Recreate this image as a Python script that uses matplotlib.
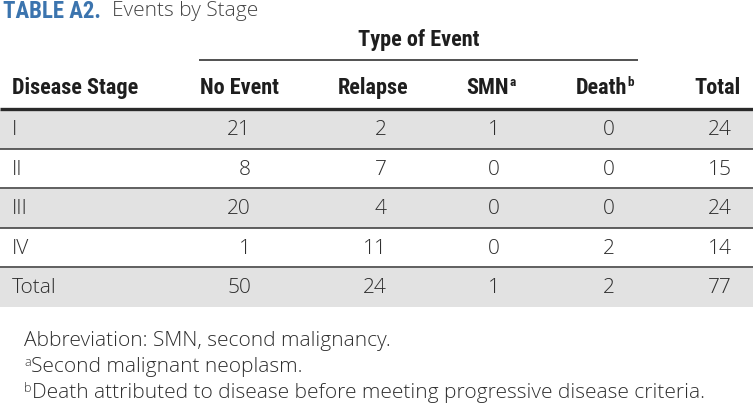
import matplotlib
matplotlib.use('Agg')
import matplotlib.pyplot as plt
from matplotlib import font_manager

# table data
stages = ['I', 'II', 'III', 'IV', 'Total']
no_event = [21, 8, 20, 1, 50]
relapse = [2, 7, 4, 11, 24]
smn = [1, 0, 0, 0, 1]
death = [0, 0, 0, 2, 2]
total = [24, 15, 24, 14, 77]

col_headers = ['Disease Stage', 'No Event', 'Relapse', 'SMN', 'Death', 'Total']
col_marks = ['', '', '', 'a', 'b', '']
footnotes = [('', 'Abbreviation: SMN, second malignancy.'),
             ('a', 'Second malignant neoplasm.'),
             ('b', 'Death attributed to disease before meeting progressive disease criteria.')]

names = {f.name for f in font_manager.fontManager.ttflist}
HEAD_FONT = 'Roboto Condensed' if 'Roboto Condensed' in names else 'DejaVu Sans'
BODY_FONT = 'Open Sans' if 'Open Sans' in names else 'DejaVu Sans'
plt.rcParams['font.family'] = [BODY_FONT, 'DejaVu Sans']

BLUE = '#3b74ae'
TXT = '#2e2e2e'
HDR = '#1e1e1e'
GRAY = '#e2e2e2'

head = dict(family=[HEAD_FONT, 'DejaVu Sans'], fontweight='bold', fontsize=16, color=HDR)
body = dict(family=[BODY_FONT, 'DejaVu Sans'], fontweight=300, fontsize=15, color=TXT)

W, H = 753, 413
fig = plt.figure(figsize=(W / 100, H / 100), dpi=100)
ax = fig.add_axes([0, 0, 1, 1])
ax.set_xlim(0, W)
ax.set_ylim(H, 0)
ax.axis('off')

renderer = fig.canvas.get_renderer()


def right_edge(t):
    bb = t.get_window_extent(renderer).transformed(ax.transData.inverted())
    return max(bb.x0, bb.x1)


# title
t = ax.text(3, 11, 'TABLE A2.', ha='left', va='center', **dict(head, fontsize=16.5, color=BLUE))
ax.text(right_edge(t) + 11, 11, 'Events by Stage', ha='left', va='center',
        **dict(body, color='#444444'))

# group header
ax.text(419, 40, 'Type of Event', ha='center', va='center', **head)
ax.plot([199, 638], [60, 60], color='#333333', lw=1.2, solid_capstyle='butt')

# column headers
hdr_x = [12, 240, 373, 488, 601, 741]
hdr_ha = ['left', 'center', 'center', 'center', 'center', 'right']
for x, s, m, ha in zip(hdr_x, col_headers, col_marks, hdr_ha):
    t = ax.text(x, 88, s, ha=ha, va='center', **head)
    if m:
        ax.text(right_edge(t) + 0.5, 83, m, ha='left', va='center', **dict(head, fontsize=9.5))

# body rows
row_top = 109
row_h = 39.5
ax.plot([0, W], [row_top, row_top], color='#2a2a2a', lw=2.4, solid_capstyle='butt')

cols = [no_event, relapse, smn, death, total]
val_x = [251, 387, 500, 615, 732]
for i, stage in enumerate(stages):
    y0 = row_top + i * row_h
    if i % 2 == 0:
        ax.axhspan(y0 + 1, y0 + row_h, color=GRAY, lw=0)
    if i > 0:
        ax.plot([0, W], [y0, y0], color='#444444', lw=1.2, solid_capstyle='butt')
    yc = y0 + row_h / 2 + 1.5
    ax.text(12, yc, stage, ha='left', va='center', **body)
    for x, vals in zip(val_x, cols):
        ax.text(x, yc, str(vals[i]), ha='right', va='center', **body)

# footnotes
for k, (m, s) in enumerate(footnotes):
    y = 341 + k * 26
    x = 24
    if m:
        mt = ax.text(x, y - 5, m, ha='left', va='center', **dict(body, fontsize=9))
        x = right_edge(mt) + 0.3
    ax.text(x, y, s, ha='left', va='center', **body)

plt.savefig('out.png', dpi=100)
plt.close()
